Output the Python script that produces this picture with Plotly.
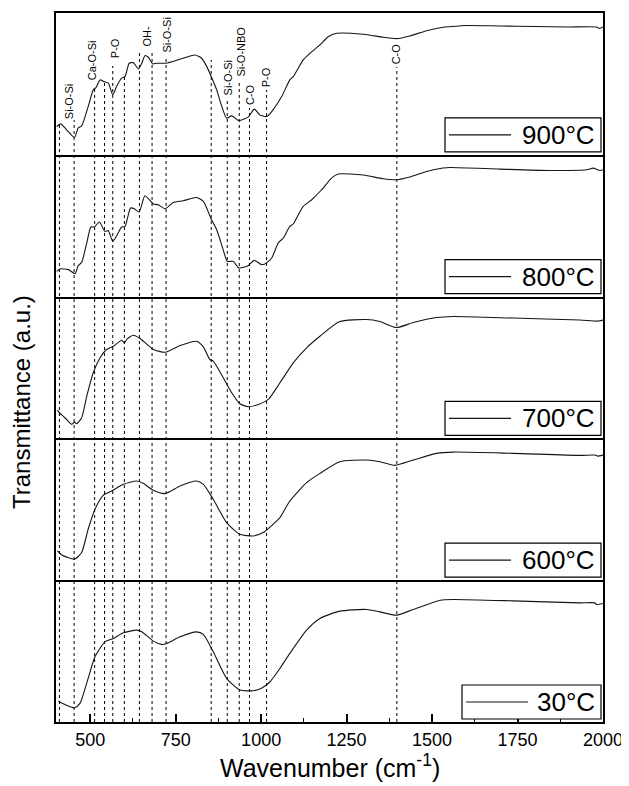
import plotly.graph_objects as go
from plotly.subplots import make_subplots

# ---------------- data (transmittance, a.u., per panel) ----------------
series_names = ["900°C", "800°C", "700°C", "600°C", "30°C"]

wn_900 = [402, 414, 431, 454, 465, 475, 494, 509, 517, 529, 540, 553, 566, 577, 592, 602, 614, 626, 641, 651,
          660, 670, 683, 694, 722, 763, 806, 826, 841, 855, 870, 885, 899, 914, 935, 962, 980, 996, 1016, 1031,
          1060, 1084, 1094, 1123, 1143, 1172, 1196, 1221, 1299, 1357, 1396, 1435, 1484, 1532, 1552, 1600, 1700,
          1800, 1900, 1980, 1990, 2000]
t_900 = [28.3, 31, 25, 17.3, 27, 29, 48.3, 65, 67.3, 75, 73.3, 71.7, 60, 68.3, 76.7, 78.3, 91.7, 92.3, 86, 91.7,
         99.3, 97.7, 91, 91.7, 91.7, 95.7, 100, 96.7, 88.3, 77.7, 65, 48.3, 36.7, 39, 34.3, 37.7, 45.7, 40, 38.3, 43.3,
         58.3, 75, 78.3, 95, 101.7, 110, 118.3, 121.7, 120.7, 117.7, 116.3, 119, 124.3, 127.7, 128.3, 129.5, 129,
         128.5, 128, 128, 126.5, 128]

wn_800 = [402, 412, 436, 456, 465, 475, 490, 502, 512, 527, 543, 553, 566, 579, 592, 602, 618, 629, 643, 660,
          675, 685, 699, 719, 743, 772, 811, 831, 855, 870, 889, 901, 918, 935, 962, 980, 1001, 1011, 1031, 1050,
          1065, 1084, 1094, 1123, 1148, 1177, 1206, 1225, 1299, 1357, 1396, 1435, 1484, 1532, 1552, 1698, 1844,
          1952, 1971, 1991, 2000]
t_800 = [25.3, 27.7, 27, 23, 31, 34.3, 53.7, 69.7, 69.7, 74.7, 65.3, 66, 55.3, 62, 69.7, 70.3, 88.7, 88, 84.7, 101,
         96.3, 92.7, 92, 88, 94.3, 96, 99.3, 95.3, 77, 67, 47, 35.3, 35.3, 28.7, 31, 36.3, 32, 32.7, 38.7, 53.7,
         58.7, 70.3, 72.7, 90.3, 97, 107, 118.7, 122.7, 121.7, 118, 117, 119.7, 125.3, 128.7, 129.3, 127.7, 126.3,
         127, 128.7, 126.3, 127]

wn_700 = [404, 412, 426, 446, 454, 460, 475, 490, 509, 529, 548, 568, 592, 600, 608, 626, 646, 685, 719, 763,
          811, 831, 850, 860, 884, 914, 938, 962, 992, 1021, 1055, 1094, 1133, 1172, 1230, 1308, 1347, 1396, 1445,
          1513, 1562, 1737, 1932, 1985, 2000]
t_700 = [28.3, 25, 20.7, 14, 16.3, 14.7, 20.7, 42.3, 65.7, 80.7, 89, 92.3, 98.3, 95.7, 99.7, 103.3, 100, 89, 86.3, 93,
         97.3, 91.7, 79, 77.3, 64, 45.7, 34.7, 31.7, 34, 39, 55.7, 75.7, 90.7, 102.3, 117, 119, 117, 111, 116,
         121, 122, 120.5, 118.5, 117.5, 118.5]

wn_600 = [404, 410, 417, 454, 475, 494, 514, 538, 563, 597, 636, 655, 685, 719, 763, 811, 831, 860, 899, 938,
          977, 1006, 1035, 1055, 1084, 1133, 1172, 1230, 1308, 1347, 1391, 1445, 1513, 1562, 1737, 1932, 1976,
          1985, 2000]
t_600 = [29.3, 27.7, 25.3, 21, 27.7, 51, 71, 85, 89.3, 96, 99.3, 97, 90, 86.7, 94.3, 99.3, 96, 81, 57.7, 46,
         44.3, 47.7, 56, 62.7, 79.3, 97.7, 107, 118.7, 120.3, 118.7, 115, 120.3, 127, 128.3, 127, 125, 125.3,
         124.3, 125.3]

wn_30 = [407, 412, 454, 470, 494, 514, 543, 568, 597, 636, 651, 685, 709, 724, 763, 811, 831, 860, 899, 938,
         977, 1001, 1026, 1055, 1084, 1133, 1172, 1230, 1308, 1347, 1396, 1445, 1524, 1562, 1737, 1932, 1976,
         1981, 2000]
t_30 = [21, 19.7, 14.3, 18.7, 43.7, 65.3, 80.3, 83.7, 89.3, 92, 90.3, 81, 77.7, 78.7, 85.3, 90.3, 87.7, 70.3, 43.7, 32,
        31.3, 33.7, 40.3, 53.7, 68.7, 92, 103.7, 111, 112.7, 110.3, 107, 112.7, 122, 122.7, 121.3, 119.3, 119.3,
        117.7, 118.7]

# band assignments: label text, label position (cm-1)
band_labels = ["Si-O-Si", "Ca-O-Si", "P-O", "OH-", "Si-O-Si", "Si-O-Si", "Si-O-NBO", "C-O", "P-O", "C-O"]
band_label_wn = [440, 506, 573, 666, 722, 903, 940, 966, 1015, 1397]
# dotted reference lines (cm-1)
ref_lines_wn = [410, 453, 513, 542, 566, 600, 644, 681, 722, 854, 901, 936, 966, 1016, 1397]

x_ticks = [500, 750, 1000, 1250, 1500, 1750, 2000]

# ---------------- layout constants ----------------
# The page body has an 8px default margin, so the figure is offset by 8px.
PAGE_W, PAGE_H, BODY = 629, 786, 8
PLOT_L, PLOT_R, PLOT_T, PLOT_B = 56, 603, 13, 722   # plot area in page pixels
W, H = PAGE_W - BODY, PAGE_H - BODY
ML, MT = PLOT_L - BODY, PLOT_T - BODY
MR, MB = PAGE_W - PLOT_R, PAGE_H - PLOT_B
PW, PH = PLOT_R - PLOT_L, PLOT_B - PLOT_T
FONT = "Arial, 'Liberation Sans', sans-serif"
YMAX = 142.0


def px_x(px):
    return (px - PLOT_L) / PW


def px_y(py):
    return (PLOT_B - py) / PH


series = [(wn_900, t_900), (wn_800, t_800), (wn_700, t_700), (wn_600, t_600), (wn_30, t_30)]

fig = make_subplots(rows=5, cols=1, shared_xaxes=True, vertical_spacing=0)
for i, (name, (xs, ys)) in enumerate(zip(series_names, series)):
    fig.add_trace(go.Scatter(x=xs, y=ys, name=name, mode="lines",
                             line=dict(color="#151515", width=1.1, shape="spline", smoothing=0.6),
                             showlegend=False, hoverinfo="skip"), row=i + 1, col=1)

# one 2px line per panel boundary: each panel draws its bottom line, the top panel also its top
fig.update_xaxes(range=[400, 2000], showline=True, linewidth=2, linecolor="black", mirror=False,
                 showgrid=False, zeroline=False, ticks="", automargin=False)
fig.update_xaxes(row=1, col=1, mirror=True)
fig.update_xaxes(row=5, col=1, ticks="inside", ticklen=8, tickwidth=1.5, tickcolor="black",
                 tickvals=x_ticks, ticktext=[str(v) for v in x_ticks], showticklabels=True,
                 tickfont=dict(family=FONT, size=18, color="black"),
                 minor=dict(ticks="inside", ticklen=4, tickwidth=1, tickcolor="black", dtick=125, tick0=500))
fig.update_yaxes(range=[0, YMAX], showline=True, linewidth=2, linecolor="black", mirror=True,
                 showgrid=False, zeroline=False, showticklabels=False, ticks="", automargin=False)

shapes = []
annotations = []

# dotted vertical reference lines (start just under their labels, end at bottom axis)
line_tops_px = [125, 120, 88, 82, 66, 77, 50, 50, 57, 60, 98, 80, 108, 90, 67]
for wn, top in zip(ref_lines_wn, line_tops_px):
    shapes.append(dict(type="line", xref="x5", yref="paper", x0=wn, x1=wn, y0=0, y1=px_y(top),
                       line=dict(color="black", width=1, dash="dot"), layer="above"))

# band labels (rotated)
label_bottoms_px = [121, 82, 60, 48, 55, 97, 79, 107, 89, 66]
for txt, wn, b in zip(band_labels, band_label_wn, label_bottoms_px):
    annotations.append(dict(text=txt, x=wn, xref="x5", y=px_y(b), yref="paper", textangle=-90,
                            xanchor="center", yanchor="bottom", showarrow=False,
                            font=dict(family=FONT, size=11, color="black")))

# legend boxes for each panel
panel_h = PH / 5
for i, name in enumerate(series_names):
    bottom_px = PLOT_T + panel_h * (i + 1)
    y0 = px_y(bottom_px - 3)
    y1 = px_y(bottom_px - 37)
    left_px = 445 if len(name) > 4 else 462
    shapes.append(dict(type="rect", xref="paper", yref="paper", x0=px_x(left_px), x1=px_x(601),
                       y0=y0, y1=y1, line=dict(color="black", width=1.2), fillcolor="white", layer="above"))
    ym = (y0 + y1) / 2
    shapes.append(dict(type="line", xref="paper", yref="paper", x0=px_x(left_px + 4), x1=px_x(left_px + 66),
                       y0=ym, y1=ym, line=dict(color="#151515", width=1.2), layer="above"))
    annotations.append(dict(text=name, x=px_x(597), y=ym, xref="paper", yref="paper", xanchor="right",
                            yanchor="middle", showarrow=False, font=dict(family=FONT, size=26, color="black")))

# axis titles
annotations.append(dict(text="Transmittance (a.u.)", x=px_x(21), y=px_y(402), xref="paper", yref="paper",
                        textangle=-90, xanchor="center", yanchor="middle", showarrow=False,
                        font=dict(family=FONT, size=24, color="black")))
annotations.append(dict(text="Wavenumber (cm<sup>-1</sup>)", x=px_x(330), y=px_y(766), xref="paper",
                        yref="paper", xanchor="center", yanchor="middle", showarrow=False,
                        font=dict(family=FONT, size=25, color="black")))

fig.update_layout(width=W, height=H, margin=dict(l=ML, r=MR, t=MT, b=MB, autoexpand=False),
                  plot_bgcolor="white", paper_bgcolor="white", shapes=shapes, annotations=annotations,
                  font=dict(family=FONT, color="black"), showlegend=False)

fig.write_html("out.html")
